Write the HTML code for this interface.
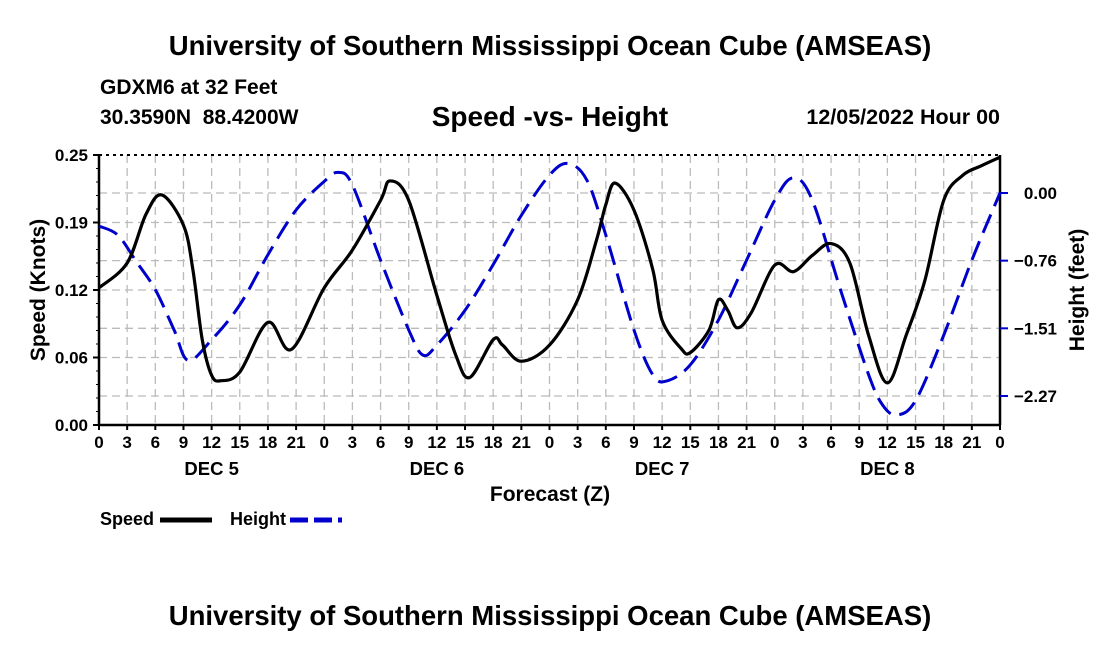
<!DOCTYPE html>
<html><head><meta charset="utf-8"><style>
body{margin:0;background:#fff}
svg text{font-family:"Liberation Sans",sans-serif;font-weight:bold;fill:#000}
</style></head><body>
<svg id="c" width="1100" height="650" viewBox="0 0 1100 650">
<text x="550" y="55" text-anchor="middle" font-size="27.5">University of Southern Mississippi Ocean Cube (AMSEAS)</text>
<text x="100" y="94" font-size="21">GDXM6 at 32 Feet</text>
<text x="100" y="124" font-size="21" xml:space="preserve">30.3590N  88.4200W</text>
<text x="550" y="126" text-anchor="middle" font-size="28">Speed -vs- Height</text>
<text x="1000" y="124" text-anchor="end" font-size="21.5">12/05/2022 Hour 00</text>
<g id="grid"></g><g id="axes"></g><g id="series"></g>
<text x="550" y="501" text-anchor="middle" font-size="21">Forecast (Z)</text>
<text transform="translate(45,290) rotate(-90)" text-anchor="middle" font-size="21">Speed (Knots)</text>
<text transform="translate(1084,290) rotate(-90)" text-anchor="middle" font-size="21">Height (feet)</text>
<g>
<text x="100" y="525" font-size="18">Speed</text>
<line x1="160" y1="520" x2="212" y2="520" stroke="#000" stroke-width="5"/>
<text x="230" y="525" font-size="18">Height</text>
<line x1="290" y1="520" x2="342" y2="520" stroke="#0000cc" stroke-width="5" stroke-dasharray="18,6"/>
</g>
<text x="550" y="625" text-anchor="middle" font-size="27.5">University of Southern Mississippi Ocean Cube (AMSEAS)</text>
</svg>
<script>
const speedHours=[0,3,5,6.7,9,10,11,12,13,15,18,20.5,24,27,30,31,33,36,38,39.5,42,43,45,48,51,53,54,55,57,59,60,62,63,65,66,67,68,69.5,72,74,76,78,80,82,84,86,88,90,92,94,96];
const speedValues=[0.127,0.15,0.195,0.213,0.185,0.144,0.079,0.046,0.041,0.049,0.095,0.07,0.127,0.162,0.208,0.226,0.208,0.12,0.065,0.044,0.079,0.074,0.059,0.074,0.116,0.171,0.204,0.224,0.199,0.144,0.097,0.071,0.067,0.088,0.116,0.106,0.09,0.104,0.148,0.142,0.157,0.168,0.15,0.083,0.039,0.083,0.134,0.208,0.231,0.24,0.248];
const heightHours=[0,2,4,6,8,9.5,12,15,18,21,24,25.5,27,30,33,34.5,36,39,42,45,48,50,52,54,57,59,60.5,63,66,69,72,74,76,79,82,83.5,85,87,90,93,96];
const heightValues=[-0.37,-0.47,-0.77,-1.08,-1.53,-1.87,-1.64,-1.25,-0.69,-0.19,0.13,0.23,0.09,-0.75,-1.53,-1.81,-1.7,-1.31,-0.8,-0.25,0.2,0.33,0.14,-0.47,-1.53,-2.03,-2.1,-1.92,-1.42,-0.75,-0.08,0.17,-0.08,-1.08,-2.03,-2.37,-2.48,-2.32,-1.59,-0.75,0.0];
const speedTicks=[0,0.0625,0.125,0.1875,0.25];
const speedTickLabels=["0.00","0.06","0.12","0.19","0.25"];
const heightTicks=[0,-0.756,-1.512,-2.268];
const heightTickLabels=["0.00","\u22120.76","\u22121.51","\u22122.27"];
const dayLabels=["DEC 5","DEC 6","DEC 7","DEC 8"];
const L=99,R=1000,T=155,B=425;
const xS=h=>L+(R-L)*h/96;
const yS=v=>B-(B-T)*v/0.25;
const yH=v=>193-89.5*v;
const NS="http://www.w3.org/2000/svg";
function mk(tag,attrs,parent){const e=document.createElementNS(NS,tag);for(const k in attrs)e.setAttribute(k,attrs[k]);parent.appendChild(e);return e;}
const grid=document.getElementById('grid'),axes=document.getElementById('axes'),ser=document.getElementById('series');
for(let h=3;h<96;h+=3){const l=mk('line',{x1:xS(h),x2:xS(h),y1:T,y2:B,stroke:'#bbb','stroke-width':1.3,'stroke-dasharray':'8,5'},grid);

}
const gys=speedTicks.slice(1,4).map(yS).concat(heightTicks.map(yH));
gys.forEach(y=>{const l=mk('line',{x1:L,x2:R,y1:y,y2:y,stroke:'#bbb','stroke-width':1.3,'stroke-dasharray':'8,5'},grid);

});
mk('line',{x1:L,x2:R,y1:T,y2:T,stroke:'#000','stroke-width':2,'stroke-dasharray':'3,4'},axes);
mk('line',{x1:L,x2:R,y1:B,y2:B,stroke:'#000','stroke-width':2.5},axes);
mk('line',{x1:L,x2:L,y1:T,y2:B,stroke:'#000','stroke-width':2.5},axes);
mk('line',{x1:R,x2:R,y1:T,y2:B,stroke:'#000','stroke-width':2.5},axes);
for(let i=0;i<=32;i++){const h=i*3,x=xS(h);
mk('line',{x1:x,x2:x,y1:B,y2:B+5,stroke:'#000','stroke-width':2},axes);
const t=mk('text',{x:x,y:B+23,'text-anchor':'middle','font-size':17},axes);t.textContent=String(h%24);

}
dayLabels.forEach((d,i)=>{const t=mk('text',{x:xS(12+24*i),y:B+50,'text-anchor':'middle','font-size':18.5},axes);t.textContent=d;

});
speedTicks.forEach((v,i)=>{const y=yS(v);mk('line',{x1:L-6,x2:L,y1:y,y2:y,stroke:'#000','stroke-width':2},axes);
const t=mk('text',{x:L-11,y:y+6,'text-anchor':'end','font-size':17},axes);t.textContent=speedTickLabels[i];

});
for(let v=0;v<=0.25;v+=0.0125){mk('line',{x1:L-3,x2:L,y1:yS(v),y2:yS(v),stroke:'#000','stroke-width':1},axes);}
heightTicks.forEach((v,i)=>{const y=yH(v);mk('line',{x1:R,x2:R+8,y1:y,y2:y,stroke:'#0000cc','stroke-width':2},axes);
const t=mk('text',{x:1057,y:y+6,'text-anchor':'end','font-size':17},axes);t.textContent=heightTickLabels[i];

});
function smooth(pts){let d='M'+pts[0][0]+','+pts[0][1];
for(let i=0;i<pts.length-1;i++){const p0=pts[Math.max(0,i-1)],p1=pts[i],p2=pts[i+1],p3=pts[Math.min(pts.length-1,i+2)];
const c1=[p1[0]+(p2[0]-p0[0])/6,p1[1]+(p2[1]-p0[1])/6],c2=[p2[0]-(p3[0]-p1[0])/6,p2[1]-(p3[1]-p1[1])/6];
d+=' C'+c1+' '+c2+' '+p2;}return d;}
const hp=mk('path',{d:smooth(heightHours.map((h,i)=>[xS(h),yH(heightValues[i])])),fill:'none',stroke:'#0000cc','stroke-width':3,'stroke-dasharray':'20,9'},ser);


const sp=mk('path',{d:smooth(speedHours.map((h,i)=>[xS(h),yS(speedValues[i])])),fill:'none',stroke:'#000','stroke-width':3.2},ser);


</script>
</body></html>
